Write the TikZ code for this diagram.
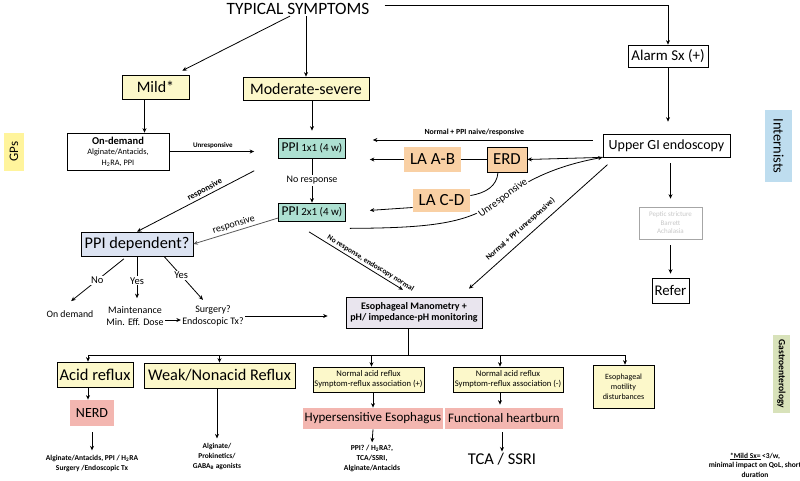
\documentclass[tikz,border=0pt]{standalone}
\usepackage{fontspec}
\setmainfont{Carlito}
\usetikzlibrary{arrows.meta,positioning,calc}

\definecolor{cream}{HTML}{FCF8CA}
\definecolor{mint}{HTML}{ADE0D1}
\definecolor{peach}{HTML}{F9D0A4}
\definecolor{rose}{HTML}{F3B6B0}
\definecolor{lilac}{HTML}{E9E5EE}
\definecolor{paleblue}{HTML}{DCE3F2}
\definecolor{skyblue}{HTML}{BEDDEF}
\definecolor{gpyellow}{HTML}{FFF49C}
\definecolor{olivegreen}{HTML}{D8E2BA}
\newcommand{\fsz}[2]{\fontsize{#1}{#2}\selectfont}

\begin{document}
\begin{tikzpicture}[x=1pt,y=-1pt,>={Stealth[length=4.5pt,width=4pt]},line width=.8pt,
  every node/.style={inner sep=1pt,align=center},
  box/.style={draw,line width=.7pt,inner sep=0pt},
  lbl/.style={font=\bfseries\fsz{7.8}{9}},
  cut/.style={fill=white,inner sep=1pt}]
\useasboundingbox (0,0) rectangle (800,480);
% side labels
\node[fill=gpyellow,rotate=90,minimum width=38pt,minimum height=20pt,font=\fsz{13}{15}] (gps) at (14,151.5) {GPs};
\node[fill=skyblue,rotate=-90,minimum width=72pt,minimum height=27pt,font=\fsz{14.5}{16}] (intern) at (778.5,146) {Internists};
\node[fill=olivegreen,rotate=-90,minimum width=78pt,minimum height=17pt,font=\bfseries\fsz{9.5}{11}] (gastro) at (781.5,374) {Gastroenterology};
% top
\node[font=\fsz{17.3}{19}] (typ) at (298,9) {TYPICAL SYMPTOMS};
\node[box,fill=cream,minimum width=67pt,minimum height=24pt,font=\fsz{16}{18}] (mild) at (155.5,87) {Mild*};
\node[box,fill=cream,minimum width=126pt,minimum height=23pt,font=\fsz{16}{18}] (mod) at (306,88.5) {Moderate-severe};
\node[box,minimum width=80pt,minimum height=22pt,font=\fsz{15}{17}] (alarm) at (668,56) {Alarm Sx (+)};
\node[box,minimum width=102pt,minimum height=37pt,font=\fsz{8.3}{10.5}] (ondem) at (118,151.5) {{\bfseries\fsz{10.5}{11}On-demand}\\Alginate/Antacids,\\H\textsubscript{2}RA, PPI};
\node[box,fill=mint,minimum width=67pt,minimum height=20pt] (ppiA) at (312,148) {{\fsz{13.5}{15}PPI} {\fsz{11}{13}1x1 (4 w)}};
\node[box,fill=mint,minimum width=67pt,minimum height=18pt] (ppiB) at (312,212) {{\fsz{13.5}{15}PPI} {\fsz{11}{13}2x1 (4 w)}};
\node[box,minimum width=127pt,minimum height=23pt,font=\fsz{14}{16}] (ugi) at (666.5,145.5) {Upper GI endoscopy};
\node[box,draw=black!35,text=black!22,minimum width=63pt,minimum height=32pt,font=\fsz{7}{8.5}] (peptic) at (670.5,223) {Peptic stricture\\Barrett\\Achalasia};
\node[box,minimum width=37pt,minimum height=25pt,font=\fsz{14.8}{16}] (refer) at (670.5,290.5) {Refer};
\node[box,fill=peach,minimum width=40pt,minimum height=25pt,font=\fsz{16.8}{18}] (erd) at (507,159.5) {ERD};
\node[fill=peach,minimum width=57pt,minimum height=25pt,inner sep=0pt,font=\fsz{17}{19}] (laab) at (432.5,159.5) {LA A-B};
\node[fill=peach,minimum width=57pt,minimum height=23pt,inner sep=0pt,font=\fsz{17}{19}] (lacd) at (441.5,200.5) {LA C-D};
\node[box,fill=paleblue,minimum width=112pt,minimum height=24pt,font=\fsz{16.3}{18}] (ppidep) at (137,244) {PPI dependent?};
\node[font=\fsz{9.8}{11}] (ondm2) at (70,314) {On demand};
\node[font=\fsz{10}{12}] (maint) at (135,316) {Maintenance\\Min. Eff. Dose};
\node[font=\fsz{10}{12}] (surg) at (213,316) {Surgery?\\Endoscopic Tx?};
\node[box,fill=lilac,minimum width=136pt,minimum height=31pt,font=\bfseries\fsz{10}{11}] (em) at (414,312.5) {Esophageal Manometry +\\pH/ impedance-pH monitoring};
% bottom row
\node[box,fill=cream,minimum width=76pt,minimum height=25pt,font=\fsz{16.5}{18}] (acid) at (95,374.5) {Acid reflux};
\node[box,fill=cream,minimum width=151pt,minimum height=25pt,font=\fsz{16.3}{18}] (weak) at (219.5,375.5) {Weak/Nonacid Reflux};
\node[box,fill=cream,minimum width=111pt,minimum height=25pt,font=\fsz{8.6}{10}] (nplus) at (368.5,379.5) {Normal acid reflux\\Symptom-reflux association (+)};
\node[box,fill=cream,minimum width=110pt,minimum height=25pt,font=\fsz{8.6}{10}] (nminus) at (508,379.5) {Normal acid reflux\\Symptom-reflux association (-)};
\node[box,fill=cream,minimum width=61pt,minimum height=43pt,font=\fsz{8}{10}] (motil) at (623.5,386.5) {Esophageal\\motility\\disturbances};
\node[fill=rose,minimum width=44pt,minimum height=26pt,inner sep=0pt,font=\fsz{14}{16}] (nerd) at (92,413) {NERD};
\node[fill=rose,minimum width=140pt,minimum height=21pt,inner sep=0pt,font=\fsz{13}{15}] (hyper) at (373,418.5) {Hypersensitive Esophagus};
\node[fill=rose,minimum width=118pt,minimum height=21pt,inner sep=0pt,font=\fsz{13}{15}] (func) at (504,418.5) {Functional heartburn};
\node[lbl,font=\bfseries\fsz{7.5}{10}] (txnerd) at (92,463) {Alginate/Antacids, PPI / H\textsubscript{2}RA\\Surgery /Endoscopic Tx};
\node[lbl,font=\bfseries\fsz{7.4}{10}] (txweak) at (217,457) {Alginate/\\Prokinetics/\\GABA\textsubscript{B} agonists};
\node[lbl,font=\bfseries\fsz{7.6}{10}] (txhyp) at (372,458) {PPI? / H\textsubscript{2}RA?,\\TCA/SSRI,\\Alginate/Antacids};
\node[font=\fsz{16.5}{18}] (tca) at (502,459) {TCA / SSRI};
\node[lbl,font=\bfseries\fsz{7.5}{9.5}] (foot) at (755,465) {\underline{*Mild Sx=} <3/w,\\minimal impact on QoL, short\\duration};

% connectors
\draw[->] ([xshift=14pt,yshift=4pt]typ.east) -| (alarm.north);
\draw[->] ([xshift=-8pt]typ.south) -- ([xshift=-7pt,yshift=4pt]mild.north east);
\draw[->] (mod.north |- typ.south) -- (mod.north);
\draw[->] ([xshift=-11pt]mild.south) -- ([xshift=-11pt]mild.south |- ondem.north);
\draw[->,shorten >=7pt] (ppiA.north |- mod.south) -- (ppiA.north);
\draw[->,shorten >=24pt] (ondem.east) -- (ondem.east -| ppiA.west) node[lbl,font=\bfseries\fsz{7}{9},pos=.4,above=2pt] {Unresponsive};
\draw[->,shorten <=27pt] (ppiA.south west) -- (ppidep.north) node[lbl,font=\bfseries\fsz{8.5}{10},pos=.5,sloped,above=1pt] {responsive};
\draw[->,black!65] ([yshift=-6pt]ppiB.west) -- (ppidep.east) node[font=\fsz{10}{12},text=black,pos=.5,sloped,above=1pt] {responsive};
\draw[->] (ppiA.south) -- (ppiB.north) node[cut,midway,font=\fsz{10}{12}] {No response};
\draw[->,shorten <=10pt,shorten >=27pt] ([yshift=5.5pt]ugi.west) -- ([yshift=5.5pt]ugi.west -| ppiA.east) node[lbl,midway,above=3pt] {Normal + PPI naive/responsive};
\draw[->] (ugi.south west) -- (erd.east);
\draw[->] ([xshift=4pt,yshift=-7pt]ppiB.south east) .. controls (440,228) and (470,222) .. (503,198)
  node[cut,rotate=36.5,font=\fsz{10.5}{12}] {Unresponsive}
  .. controls (530,178) and (560,165) .. (ugi.south west);
\draw (erd.west) -- (laab.east);
\draw[->,shorten >=24pt] (laab.west) -- (laab.west -| ppiA.east);
\draw ([xshift=-9pt]erd.south) .. controls (497,186) and (486,193) .. ([yshift=5pt]lacd.east);
\draw[->,shorten >=24pt] ([yshift=-7pt]lacd.west) -- (ppiB.east);
\draw[->,shorten <=20pt,shorten >=13pt] ([xshift=-20pt]ppiB.south) -- (em.north) node[lbl,font=\bfseries\fsz{7.5}{9},pos=.62,sloped,above=1pt] {No response, endoscopy normal};
\draw[->,shorten <=11pt,shorten >=12pt] ([xshift=13pt]ugi.south west) -- ([xshift=46pt]em.north) node[lbl,pos=.57,sloped,above=5pt] {Normal + PPI unresponsive)};
\draw[->,shorten >=12pt] (alarm.south) -- (alarm.south |- ugi.north);
\draw[->,shorten <=6pt,shorten >=8pt] (peptic.north |- ugi.south) -- (peptic.north);
\draw[->,shorten <=6pt,shorten >=4pt] (peptic.south) -- (refer.north);
% PPI dependent branches
\draw[->,shorten <=4pt,shorten >=13pt] ([xshift=-10pt]ppidep.south) -- ([xshift=-9pt]ondm2.north) node[cut,pos=.45,font=\fsz{10.5}{12}] {No};
\draw[->,shorten >=7pt] (ppidep.south) -- (ppidep.south |- maint.north) node[cut,midway,font=\fsz{10.5}{12}] {Yes};
\draw[->,shorten >=6pt] ([xshift=27pt]ppidep.south) -- ([xshift=-6pt]surg.north) node[cut,pos=.4,font=\fsz{10.5}{12}] {Yes};
\draw[->] ([yshift=-4pt]maint.east) -- ([yshift=-4pt]maint.east -| surg.west);
\draw[->,shorten >=18pt] (surg.east) -- (surg.east -| em.west);
% bus to the tests
\coordinate (busL) at (88,355);
\coordinate (busR) at (625,355);
\draw ([xshift=-6pt]em.south) -- ([xshift=-6pt]em.south |- busL);
\draw (busL) -- (busR);
\draw[->] (busL) -- (busL |- acid.north);
\draw[->] (weak.north |- busL) -- (weak.north);
\draw[->] ([xshift=3pt]nplus.north |- busL) -- ([xshift=3pt]nplus.north);
\draw[->] ([xshift=-8pt]nminus.north |- busL) -- ([xshift=-8pt]nminus.north);
\draw[->] (busR) -- (busR |- motil.north);
\draw[->] ([xshift=-7pt]acid.south) -- ([xshift=-7pt]acid.south |- nerd.north);
\draw[->,shorten <=6pt,shorten >=3pt] (nerd.south) -- (txnerd.north);
\draw[->,shorten >=4pt] (txweak.north |- weak.south) -- (txweak.north);
\draw[->] (hyper.north |- nplus.south) -- (hyper.north);
\draw[->,shorten >=3pt] ([xshift=-4pt]func.north |- nminus.south) -- ([xshift=-4pt]func.north);
\draw[->,shorten >=1pt] (hyper.south) -- (txhyp.north);
\draw[->,shorten <=3pt] (func.south -| tca.north) -- (tca.north);
\end{tikzpicture}
\end{document}
